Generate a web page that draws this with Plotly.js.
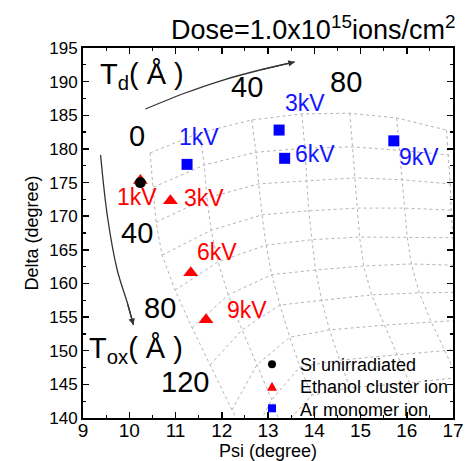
<!DOCTYPE html>
<html><head><meta charset="utf-8">
<script src="https://cdn.plot.ly/plotly-3.0.1.min.js"></script>
<style>html,body{margin:0;padding:0;background:#fff}#chart{width:465px;height:461px}</style>
</head><body><div id="chart"></div>
<script>
// Measured points (Psi, Delta)
const siPsi = [10.24], siDelta = [175.0];
const ethPsi = [10.24, 10.89, 11.33, 11.66], ethDelta = [175.3, 172.3, 161.6, 154.6];
const arPsi = [11.25, 13.24, 13.36, 15.72], arDelta = [177.7, 182.8, 178.6, 181.2];
const kvLabels = ['1kV', '3kV', '6kV', '9kV'];
const seriesNames = ['Si unirradiated', 'Ethanol cluster ion', 'Ar monomer ion'];

// Simulation grid: lines of constant Td (nodes ordered by Tox = 0,20,40,...)
const td0Psi   = [10.45,10.52,10.58,10.71,10.99,11.36,11.75,12.22,12.60,13.00];
const td0Delta = [179.4,174.3,169.1,164.2,159.0,153.4,147.9,141.2,136.5,131.0];
const td20Psi   = [11.53,11.62,11.68,11.77,11.92,12.14,12.44,12.76,13.08,13.30];
const td20Delta = [182.4,177.6,172.7,167.9,163.2,158.3,153.1,147.9,142.7,138.5];
const td40Psi   = [12.65,12.74,12.80,12.87,12.96,13.08,13.26,13.47,13.69,13.95];
const td40Delta = [184.3,179.5,174.8,170.2,165.7,161.3,156.8,152.0,147.6,143.4];
const td60Psi   = [13.73,13.80,13.84,13.88,13.95,14.03,14.16,14.33,14.55,14.77];
const td60Delta = [185.2,180.1,175.2,170.8,166.5,162.0,157.5,153.1,148.6,144.5];
const td80Psi   = [14.77,14.83,14.89,14.94,14.98,15.07,15.24,15.52,15.80,16.06];
const td80Delta = [185.3,180.3,175.7,171.2,166.9,162.6,158.3,153.8,149.4,145.2];
const td100Psi   = [15.78,15.84,15.91,15.95,16.01,16.10,16.27,16.53,16.81,17.10];
const td100Delta = [184.6,179.8,175.4,171.2,166.9,162.9,158.6,154.3,150.1,145.9];
const td120Psi   = [16.86,16.90,16.94,16.96,17.00,17.07,17.18,17.30,17.45,17.60];
const td120Delta = [182.8,179.1,174.8,170.9,166.8,162.7,158.7,154.6,150.4,146.4];

// Guide arrows
const tdArrowPsi = [10.35, 11.21, 12.03, 12.83, 13.58];
const tdArrowDelta = [185.93, 188.31, 190.24, 191.73, 192.92];
const toxArrowPsi = [9.38, 9.53, 9.74, 9.96, 10.09];
const toxArrowDelta = [179.09, 169.88, 162.0, 157.09, 153.82];

const colsPsi = [td0Psi, td20Psi, td40Psi, td60Psi, td80Psi, td100Psi, td120Psi];
const colsDelta = [td0Delta, td20Delta, td40Delta, td60Delta, td80Delta, td100Delta, td120Delta];

const gridLine = {color: '#b4b4b4', width: 1, dash: 'dot'};
const traces = [];
colsPsi.forEach((p, i) => {
  traces.push({x: p, y: colsDelta[i], mode: 'lines', line: gridLine, showlegend: false, hoverinfo: 'skip'});
});
for (let r = 0; r < td0Psi.length; r++) {
  traces.push({x: colsPsi.map(c => c[r]), y: colsDelta.map(c => c[r]), mode: 'lines', line: gridLine, showlegend: false, hoverinfo: 'skip'});
}
traces.push({x: tdArrowPsi, y: tdArrowDelta, mode: 'lines', line: {color: '#333', width: 1.3, shape: 'spline'}, showlegend: false, hoverinfo: 'skip'});
traces.push({x: toxArrowPsi, y: toxArrowDelta, mode: 'lines', line: {color: '#333', width: 1.3, shape: 'spline'}, showlegend: false, hoverinfo: 'skip'});

const blue = '#1414ff', red = '#ff0000', markBlue = '#0000ff';
traces.push({x: ethPsi, y: ethDelta, mode: 'markers', name: seriesNames[1], showlegend: false,
  marker: {symbol: 'triangle-up', size: 13, color: red}});
traces.push({x: arPsi, y: arDelta, mode: 'markers', name: seriesNames[2], showlegend: false,
  marker: {symbol: 'square', size: 11, color: markBlue}});
traces.push({x: siPsi, y: siDelta, mode: 'markers', name: seriesNames[0], showlegend: false,
  marker: {symbol: 'circle', size: 11, color: '#000000'}});

const F = 'Liberation Sans, Arial, sans-serif';
const blueLabelPos = [[11.50, 181.8], [13.80, 186.8], [14.01, 179.2], [16.27, 178.8]];
const redLabelPos = [[10.17, 172.9], [11.61, 172.7], [11.90, 164.7], [12.55, 156.05]];
const annotations = [];
kvLabels.forEach((t, i) => {
  annotations.push({x: blueLabelPos[i][0], y: blueLabelPos[i][1], text: t, showarrow: false, font: {family: F, size: 23, color: blue}});
  annotations.push({x: redLabelPos[i][0], y: redLabelPos[i][1], text: t, showarrow: false, font: {family: F, size: 23, color: red}});
});
const bigLabels = [['0', 10.17, 181.9], ['40', 12.54, 189.2], ['80', 14.68, 189.9],
                   ['40', 10.17, 167.45], ['80', 10.67, 156.3], ['120', 11.21, 145.4]];
bigLabels.forEach(b => annotations.push({x: b[1], y: b[2], text: b[0], showarrow: false, font: {family: F, size: 29, color: '#000'}}));
annotations.push({x: 10.27, y: 190.8, text: 'T<sub>d</sub>( Å )', showarrow: false, font: {family: F, size: 29, color: '#000'}});
annotations.push({x: 10.14, y: 150.1, text: 'T<sub>ox</sub>( Å )', showarrow: false, font: {family: F, size: 29, color: '#000'}});
// arrow heads
annotations.push({x: tdArrowPsi[4], y: tdArrowDelta[4], ax: tdArrowPsi[3], ay: tdArrowDelta[3], axref: 'x', ayref: 'y', xref: 'x', yref: 'y',
  text: '', showarrow: true, arrowhead: 2, arrowsize: 1, arrowwidth: 1.3, arrowcolor: '#333'});
annotations.push({x: toxArrowPsi[4], y: toxArrowDelta[4], ax: toxArrowPsi[3], ay: toxArrowDelta[3], axref: 'x', ayref: 'y', xref: 'x', yref: 'y',
  text: '', showarrow: true, arrowhead: 2, arrowsize: 1, arrowwidth: 1.3, arrowcolor: '#333'});
// dose title
annotations.push({xref: 'paper', yref: 'paper', x: 1.01, y: 1.0, xanchor: 'right', yanchor: 'bottom', yshift: 1,
  text: 'Dose=1.0x10<sup>15</sup>ions/cm<sup>2</sup>', showarrow: false, font: {family: F, size: 27, color: '#000'}});

// legend (drawn box-free, inside the plot, bottom right)
const legX = 0.5108, legTextX = 0.5809;
const legY = [0.1451, 0.0846, 0.0262], legTextY = [0.1432, 0.0851, 0.0216];
seriesNames.forEach((n, i) => annotations.push({xref: 'paper', yref: 'paper', x: legTextX, y: legTextY[i], xanchor: 'left', yanchor: 'middle',
  text: n, showarrow: false, font: {family: F, size: 18, color: '#000'}}));
const shapes = [
  {type: 'circle', xref: 'paper', yref: 'paper', xsizemode: 'pixel', ysizemode: 'pixel', xanchor: legX, yanchor: legY[0],
   x0: -4, x1: 4, y0: -4, y1: 4, fillcolor: '#000', line: {width: 0}},
  {type: 'path', xref: 'paper', yref: 'paper', xsizemode: 'pixel', ysizemode: 'pixel', xanchor: legX, yanchor: legY[1],
   path: 'M -5 -4 L 5 -4 L 0 5 Z', fillcolor: red, line: {width: 0}},
  {type: 'rect', xref: 'paper', yref: 'paper', xsizemode: 'pixel', ysizemode: 'pixel', xanchor: legX, yanchor: legY[2],
   x0: -4, x1: 4, y0: -4, y1: 4, fillcolor: markBlue, line: {width: 0}}
];

const axisCommon = {
  showline: true, linecolor: '#000', linewidth: 2, mirror: 'ticks', ticks: 'inside', ticklen: 6, tickwidth: 1.5, tickcolor: '#000',
  showgrid: false, zeroline: false,
  minor: {ticks: 'inside', ticklen: 3, tickwidth: 1.2, tickcolor: '#000', showgrid: false}
};
const layout = {
  width: 465, height: 461,
  margin: {l: 82.5, r: 11.5, t: 48, b: 43},
  paper_bgcolor: '#fff', plot_bgcolor: '#fff',
  xaxis: Object.assign({}, axisCommon, {range: [9, 17], dtick: 1, minor: Object.assign({}, axisCommon.minor, {dtick: 0.5}),
    tickfont: {family: F, size: 19, color: '#000'}, ticklabelstandoff: -6,
    title: {text: 'Psi (degree)', font: {family: F, size: 18, color: '#000'}, standoff: 0}}),
  yaxis: Object.assign({}, axisCommon, {range: [140, 195], dtick: 5, minor: Object.assign({}, axisCommon.minor, {dtick: 2.5}),
    tickfont: {family: F, size: 17, color: '#000'},
    title: {text: 'Delta (degree)', font: {family: F, size: 18, color: '#000'}, standoff: 6}}),
  showlegend: false,
  annotations: annotations,
  shapes: shapes
};
Plotly.newPlot('chart', traces, layout, {displayModeBar: false, staticPlot: true});
</script></body></html>
